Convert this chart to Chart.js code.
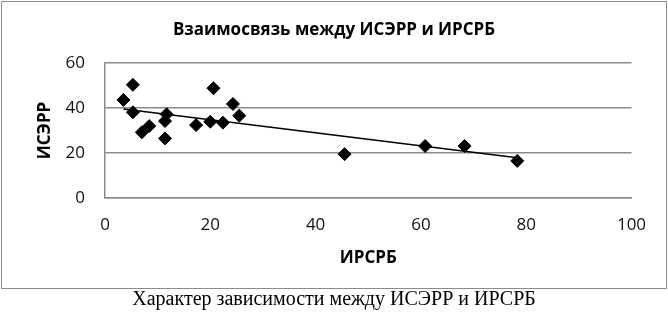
<!DOCTYPE html>
<html>
<head>
<meta charset="utf-8">
<script src="https://cdn.jsdelivr.net/npm/chart.js@4"></script>
<style>
    body { margin: 0; background: #fff; width: 668px; height: 315px; overflow: hidden; position: relative; }
    #box { position: absolute; left: 1px; top: 1px; width: 664px; height: 286px; border: 1px solid #8c8c8c; }
    #caption { position: absolute; left: 0; top: 287px; width: 668px; text-align: center;
               font: 20px "Liberation Serif", "Times New Roman", serif; color: #000; }
</style>
</head>
<body>
<div id="box"><canvas id="scatterChart" width="664" height="286"></canvas></div>
<div id="caption">Характер зависимости между ИСЭРР и ИРСРБ</div>
<script>
const chartTitle = 'Взаимосвязь между ИСЭРР и ИРСРБ';
const xTitle = 'ИРСРБ';
const yTitle = 'ИСЭРР';

// ИРСРБ (x) and ИСЭРР (y) per region
const irsrb = [3.5, 5.3, 5.3, 7.0, 8.4, 11.4, 11.7, 11.4, 17.3, 20.0, 20.6, 22.4, 24.3, 25.5, 45.5, 60.8, 68.3, 78.3];
const iserr = [43.6, 50.3, 38.1, 29.2, 32.0, 34.2, 37.2, 26.5, 32.4, 33.9, 48.8, 33.5, 41.8, 36.6, 19.5, 23.1, 23.1, 16.5];

const xTicks = [0, 20, 40, 60, 80, 100];
const yTicks = [0, 20, 40, 60];

const points = irsrb.map((x, i) => ({ x: x, y: iserr[i] }));

// linear trendline (least squares), over the data's x range
function trend() {
    const n = irsrb.length;
    const mx = irsrb.reduce((a, b) => a + b, 0) / n;
    const my = iserr.reduce((a, b) => a + b, 0) / n;
    let sxy = 0, sxx = 0;
    for (let i = 0; i < n; i++) {
        sxy += (irsrb[i] - mx) * (iserr[i] - my);
        sxx += (irsrb[i] - mx) ** 2;
    }
    const k = sxy / sxx;
    const b = my - k * mx;
    const x0 = Math.min(...irsrb), x1 = Math.max(...irsrb);
    return [{ x: x0, y: k * x0 + b }, { x: x1, y: k * x1 + b }];
}

const titles = {
    id: 'titles',
    afterDraw(chart) {
        const ctx = chart.ctx;
        const area = chart.chartArea;
        ctx.save();
        ctx.fillStyle = '#000';
        ctx.textAlign = 'center';
        ctx.textBaseline = 'alphabetic';
        ctx.font = 'bold 17px "Open Sans"';
        ctx.fillText(chartTitle, chart.width / 2, 33);
        ctx.fillText(xTitle, (area.left + area.right) / 2, 261);
        ctx.restore();
    }
};

const gridColor = '#8a8a8a';

new Chart(document.getElementById('scatterChart'), {
    type: 'scatter',
    data: {
        datasets: [
            {
                label: 'data',
                data: points,
                pointStyle: 'rectRot',
                pointRadius: 6.5,
                pointBackgroundColor: '#000',
                pointBorderColor: '#000',
                order: 1
            },
            {
                label: 'trend',
                type: 'line',
                data: trend(),
                borderColor: '#000',
                borderWidth: 1.5,
                pointRadius: 0,
                order: 0
            }
        ]
    },
    options: {
        responsive: false,
        animation: false,
        layout: { padding: { left: 33, top: 61, right: 34.5, bottom: 0 } },
        plugins: { legend: { display: false }, tooltip: { enabled: false } },
        scales: {
            x: {
                type: 'linear',
                min: 0, max: 100,
                afterBuildTicks: s => { s.ticks = xTicks.map(v => ({ value: v })); },
                afterFit: s => { s.height = 90; },
                grid: { display: false, drawTicks: false },
                border: { display: true, color: gridColor, width: 1.5 },
                ticks: { padding: 17, color: '#111', font: { family: 'Open Sans', size: 17 } }
            },
            y: {
                min: 0, max: 60,
                afterBuildTicks: s => { s.ticks = yTicks.map(v => ({ value: v })); },
                afterFit: s => { s.width = 70; },
                grid: { color: gridColor, lineWidth: 1.5, drawTicks: false },
                border: { display: true, color: gridColor, width: 1.5 },
                ticks: { padding: 20, color: '#111', font: { family: 'Open Sans', size: 17 } },
                title: {
                    display: true,
                    text: yTitle,
                    color: '#000',
                    padding: 0,
                    font: { family: 'Open Sans', size: 17, weight: 'bold' }
                }
            }
        }
    },
    plugins: [titles]
});
</script>
</body>
</html>
